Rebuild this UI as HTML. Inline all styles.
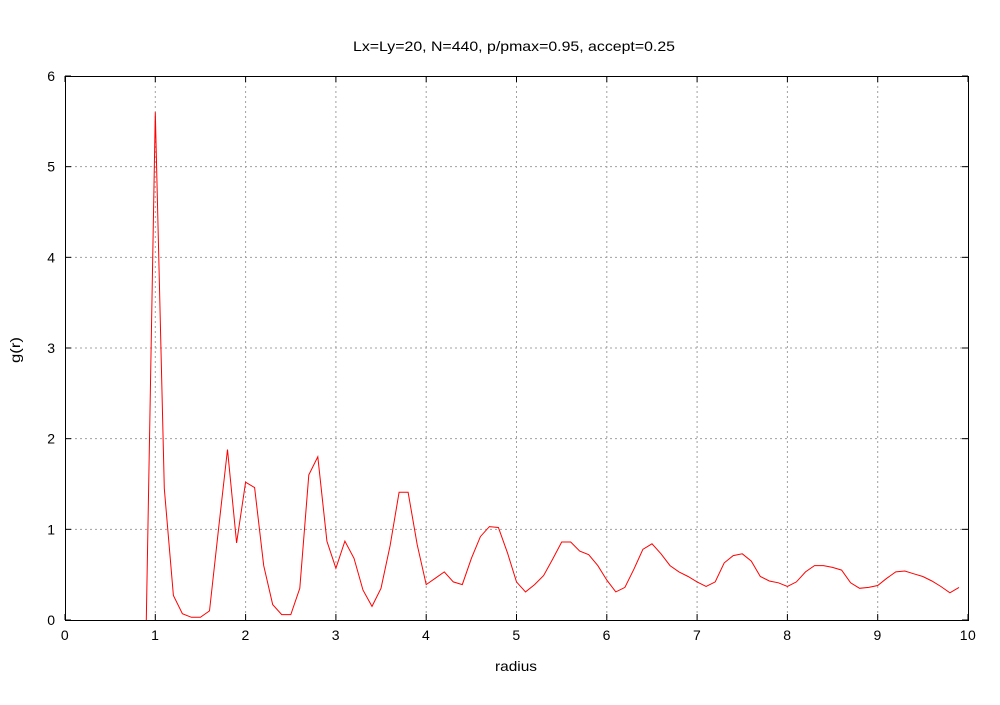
<!DOCTYPE html>
<html><head><meta charset="utf-8"><style>
body{margin:0;background:#fff;}
svg text{font-family:"Liberation Sans",sans-serif;font-size:14px;fill:#000;}
</style></head><body>
<svg id="chart" width="1000" height="700" xmlns="http://www.w3.org/2000/svg">
<rect width="1000" height="700" fill="#fff"/>
<g id="grid"></g>
<g id="axes"></g>
<text x="514" y="51" text-anchor="middle" textLength="322" lengthAdjust="spacingAndGlyphs">Lx=Ly=20, N=440, p/pmax=0.95, accept=0.25</text>
<text x="516" y="671" text-anchor="middle" textLength="42" lengthAdjust="spacingAndGlyphs">radius</text>
<text x="20" y="350" text-anchor="middle" transform="rotate(-90 20 350)" textLength="26" lengthAdjust="spacingAndGlyphs">g(r)</text>
<polyline id="line" fill="none" stroke="#ff0000" stroke-width="1"/>
</svg>
<script>
const xTicks=[0,1,2,3,4,5,6,7,8,9,10];
const yTicks=[0,1,2,3,4,5,6];
const rStart=0.9;
const rStep=0.1;
const gValues=[0,5.6,1.45,0.27,0.07,0.03,0.03,0.1,1.0,1.88,0.85,1.52,1.46,0.6,0.17,0.06,0.06,0.35,1.6,1.8,0.87,0.57,0.87,0.68,0.33,0.15,0.35,0.82,1.41,1.41,0.83,0.39,0.46,0.53,0.42,0.39,0.68,0.92,1.03,1.02,0.74,0.42,0.31,0.39,0.49,0.67,0.86,0.86,0.76,0.72,0.6,0.44,0.31,0.36,0.56,0.78,0.84,0.73,0.6,0.53,0.48,0.42,0.37,0.42,0.63,0.71,0.73,0.65,0.48,0.43,0.41,0.37,0.42,0.53,0.6,0.6,0.58,0.55,0.41,0.35,0.36,0.38,0.46,0.53,0.54,0.51,0.48,0.43,0.37,0.3,0.36];
const L=65,R=968,T=76,B=620;
const X=v=>L+(v-0)/(10-0)*(R-L);
const Y=v=>B-(v-0)/(6-0)*(B-T);
const NS="http://www.w3.org/2000/svg";
const grid=document.getElementById('grid'),axes=document.getElementById('axes');
function mk(tag,attrs,parent){const e=document.createElementNS(NS,tag);for(const k in attrs)e.setAttribute(k,attrs[k]);parent.appendChild(e);return e;}
xTicks.forEach(t=>{
  const x=X(t);
  if(t>0&&t<10){const g=mk('line',{x1:x,x2:x,y1:T,y2:B,stroke:'#a0a0a0','stroke-dasharray':'2,3'},grid);
  
  }
  mk('line',{x1:x,x2:x,y1:B,y2:B-6,stroke:'#000'},axes);
  mk('line',{x1:x,x2:x,y1:T,y2:T+6,stroke:'#000'},axes);
  const tx=mk('text',{x:x,y:B+20,'text-anchor':'middle','letter-spacing':'0.5'},axes);tx.textContent=t;
  
  
});
yTicks.forEach(t=>{
  const y=Y(t);
  if(t>0&&t<6){const g=mk('line',{x1:L,x2:R,y1:y,y2:y,stroke:'#a0a0a0','stroke-dasharray':'2,3'},grid);
  
  }
  mk('line',{x1:L,x2:L+6,y1:y,y2:y,stroke:'#000'},axes);
  mk('line',{x1:R,x2:R-6,y1:y,y2:y,stroke:'#000'},axes);
  const tx=mk('text',{x:L-10,y:y+5,'text-anchor':'end'},axes);tx.textContent=t;
  
  
});
const frame=mk('rect',{x:L+0.5,y:T+0.5,width:R-L,height:B-T,fill:'none',stroke:'#000'},axes);


document.getElementById('line').setAttribute('points',gValues.map((v,i)=>X(rStart+i*rStep).toFixed(1)+','+Y(v).toFixed(1)).join(' '));
</script>
</body></html>
